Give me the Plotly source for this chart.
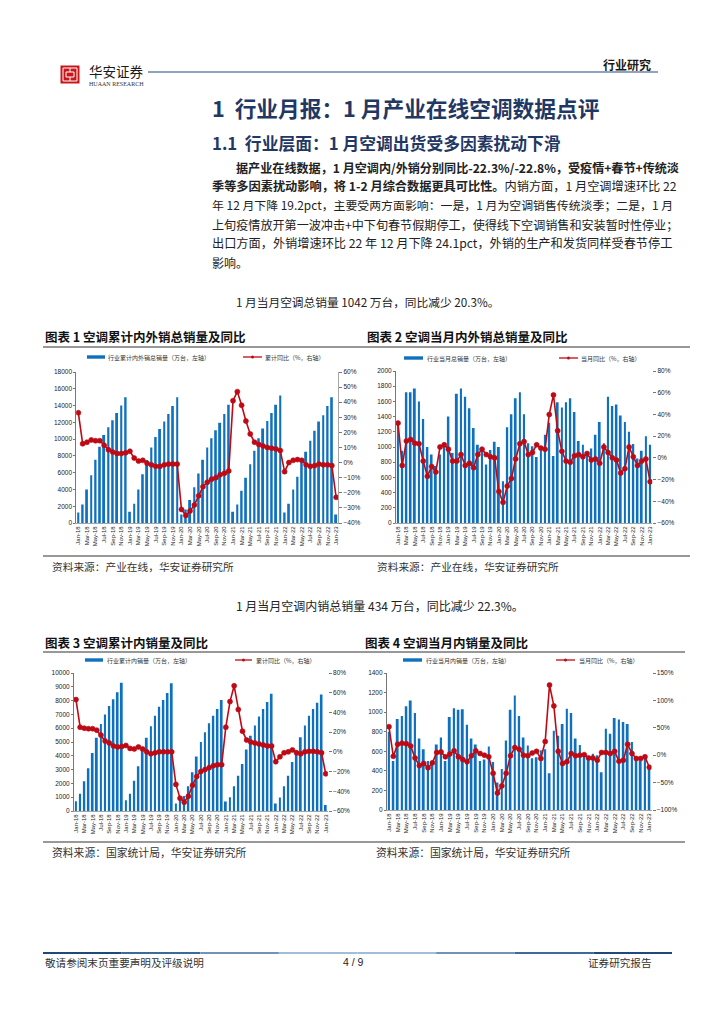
import plotly.graph_objects as go

W, H = 724, 1024
PAGE_INSET = 8
CJK = "Noto Sans CJK SC"
LATIN = "Liberation Sans"
BAR = "#0F70BE"
LINE = "#BE0A14"
NAVY = "#1F3864"

years = ["18", "19", "20", "21", "22"]
mons = ["Jan", "Feb", "Mar", "Apr", "May", "Jun", "Jul", "Aug", "Sep", "Oct", "Nov", "Dec"]
months = [f"{m}-{y}" for y in years for m in mons] + ["Jan-23"]
tick_labels = months[::2]

total_cum = [1250, 2200, 4000, 5700, 7550, 9100, 10500, 11400, 12250, 13100, 14000, 15000,
             1350, 2300, 4000, 5800, 7500, 9000, 10250, 11200, 12100, 13000, 13950, 15000,
             1000, 1600, 2750, 4250, 5900, 7550, 9000, 10100, 11050, 11950, 13000, 14100,
             1350, 2200, 3850, 5400, 7000, 8600, 10100, 11250, 12150, 13100, 14100, 15200,
             1250, 2300, 4000, 5500, 7300, 8500, 9800, 11000, 12100, 12850, 13950, 15000, 1000]
total_cum_yoy = [33, 12.5, 13.5, 15, 14.5, 14.5, 11.5, 8.5, 7, 6, 6, 6.5,
                 7.5, 3, 1, 1.5, -0.5, -1.5, -2.5, -2.5, -1.5, -1, -1, -1,
                 -31, -35, -32, -28, -22, -16, -13, -11, -10, -8, -7, -5.5,
                 41, 47, 38, 27.5, 19, 13.5, 12, 11, 10, 9.5, 9, 8,
                 -6, 0, 1.5, 2, 1.5, -1.5, -2.5, -2, -1, -1.5, -1.5, -2, -23]

total_mon = [1300, 950, 1720, 1720, 1770, 1600, 1370, 1000, 900, 750, 900, 1060,
             1400, 920, 1700, 1770, 1660, 1510, 1250, 1030, 960, 770, 960, 1070,
             1000, 550, 1260, 1430, 1640, 1720, 1430, 1050, 1010, 870, 980, 1160,
             1320, 880, 1590, 1520, 1590, 1640, 1460, 1080, 1030, 910, 980, 1160,
             1330, 1050, 1660, 1540, 1560, 1415, 1330, 1200, 1040, 850, 950, 1140, 1030]
total_mon_yoy = [32, -7, 15.5, 17, 13.5, 13, -3, -17, -8, -13, 10, 12,
                 8, -3, -3, 3, -7, -5, -9, 3, 8, 3, 1, 0,
                 -31, -41, -26, -19, -1, 13, 15, 3, 5, 12, 9, 8,
                 40, 58, 25, 6, -3, -4, 2, 3, 1, 4, -2, -1,
                 -5, 10, 5, 0, -2, -14, -10, 10, 1, -7, -3, -1, -22]

dom_cum = [700, 1250, 2150, 3100, 4200, 5300, 6300, 7000, 7600, 8100, 8600, 9300,
           780, 1250, 2200, 3250, 4400, 5300, 6150, 6900, 7550, 8050, 8550, 9250,
           550, 800, 1080, 1800, 2800, 3950, 5000, 5700, 6350, 6900, 7400, 8050,
           680, 1000, 1800, 2550, 3400, 4450, 5450, 6200, 6850, 7400, 7900, 8500,
           550, 980, 1800, 2550, 3550, 4400, 5350, 6200, 6900, 7400, 7850, 8450, 430]
dom_cum_yoy = [53, 25, 24, 23.5, 23.5, 22, 17, 11, 9, 6, 5, 5.5,
               6.5, 3.5, 3, 5, 3, 0, -2, -1, 0, 0, 0, 0,
               -33, -47, -51, -45, -34, -25, -20, -18, -16, -14, -13, -13,
               25, 51, 67, 43, 21, 12, 10, 9, 8, 7, 6, 6,
               -10, -5, -1, 0, 2, -1, -2, 0, 0.5, 0.5, 0, -1, -22.3]

dom_mon = [800, 500, 930, 960, 1060, 1120, 990, 730, 620, 500, 500, 670,
           740, 500, 950, 1040, 1025, 1030, 870, 730, 670, 500, 515, 650,
           490, 280, 420, 710, 1025, 1170, 960, 740, 660, 530, 540, 610,
           620, 375, 810, 760, 880, 1035, 990, 730, 665, 560, 530, 575,
           560, 385, 830, 780, 940, 925, 900, 880, 695, 540, 500, 530, 430]
dom_mon_yoy = [52, -2, 20, 22, 21, 17, -5, -19, -15, -23, -14, 5,
               6, -3, 2, 8, -3, -8, -12, -1, 8, 3, 0, -3,
               -33, -69, -56, -33, -1, 14, 11, 0, -1, 4, 7, -6,
               25, 128, 90, 7, -15, -12, 3, -1, 0, 1, -5, -5,
               -9, 5, 5, 3, 7, -11, -9, 20, 3, -6, -6, -3, -22]

charts = [
    dict(bars=total_cum, line=total_cum_yoy, lmax=18000, ldt=2000, rmin=-40, rmax=60, rdt=10,
         px=(76.2, 338.3), py=(372, 523), rline=True,
         bar_name="行业累计内外销总销量（万台，左轴）", line_name="累计同比（%，右轴）",
         leg=(87, 105, 107, 243, 262, 264, 357)),
    dict(bars=total_mon, line=total_mon_yoy, lmax=2000, ldt=200, rmin=-60, rmax=80, rdt=20,
         px=(395.9, 652.2), py=(371, 523), rline=False,
         bar_name="行业当月总销量（万台，左轴）", line_name="当月同比（%，右轴）",
         leg=(404, 423, 426, 559, 578, 580, 358)),
    dict(bars=dom_cum, line=dom_cum_yoy, lmax=10000, ldt=1000, rmin=-60, rmax=80, rdt=20,
         px=(73.9, 327.8), py=(673, 811), rline=False,
         bar_name="行业累计内销量（万台，左轴）", line_name="累计同比（%，右轴）",
         leg=(85, 103, 106, 235, 252, 255, 660)),
    dict(bars=dom_mon, line=dom_mon_yoy, lmax=1400, ldt=200, rmin=-100, rmax=150, rdt=50,
         px=(386.8, 651.5), py=(673, 810), rline=False,
         bar_name="行业当月内销量（万台，左轴）", line_name="当月同比（%，右轴）",
         leg=(403, 422, 425, 556, 575, 578, 660)),
]

fig = go.Figure()
annotations, shapes = [], []
FW, FH = W - PAGE_INSET, H - PAGE_INSET * 2


def X(p):
    return (p - PAGE_INSET) / FW


def Y(p):
    return 1 - (p - PAGE_INSET) / FH


def text(s, x, y, size=12, color="#111111", font=CJK, anchor="left"):
    annotations.append(dict(text=s, x=X(x), y=Y(y), xref="paper", yref="paper", showarrow=False,
                            xanchor=anchor, yanchor="middle", align=anchor, borderpad=0,
                            font=dict(family=font, size=size, color=color)))


def line(x0, y0, x1, y1, color="#000000", width=1):
    shapes.append(dict(type="line", xref="paper", yref="paper", x0=X(x0), y0=Y(y0), x1=X(x1), y1=Y(y1),
                       line=dict(color=color, width=width)))


def rect(x0, y0, x1, y1, color, border=None):
    shapes.append(dict(type="rect", xref="paper", yref="paper", x0=X(x0), y0=Y(y0), x1=X(x1), y1=Y(y1),
                       fillcolor=color, line=dict(color=border or color, width=1 if border else 0)))


layout_axes = {}
for i, c in enumerate(charts):
    n = i * 2 + 1
    xname, yname, yname2 = f"x{n}", f"y{n}", f"y{n + 1}"
    fig.add_trace(go.Bar(x=months, y=c["bars"], marker=dict(color=BAR, line=dict(width=0)),
                         name=c["bar_name"], xaxis=xname, yaxis=yname, showlegend=False))
    fig.add_trace(go.Scatter(x=months, y=c["line"], mode="lines+markers", name=c["line_name"],
                             line=dict(color=LINE, width=1.6),
                             marker=dict(color=LINE, size=5, symbol="circle", line=dict(width=0.6, color=LINE)),
                             xaxis=xname, yaxis=yname2, showlegend=False))
    x0, x1 = c["px"]
    yt, yb = c["py"]
    layout_axes[f"xaxis{n}"] = dict(
        domain=[X(x0), X(x1)], anchor=yname, type="category", range=[-0.5, 60.5],
        tickmode="array", tickvals=tick_labels, ticktext=tick_labels, tickangle=-90,
        tickfont=dict(family=LATIN, size=6, color="#222222"), ticks="", showgrid=False,
        showline=True, linecolor="#A6A6A6", linewidth=0.8, zeroline=False, automargin=False)
    layout_axes[f"yaxis{n}"] = dict(
        domain=[Y(yb), Y(yt)], anchor=xname, range=[0, c["lmax"]], tick0=0, dtick=c["ldt"], tickformat="d",
        tickfont=dict(family=LATIN, size=6.5, color="#222222"), ticks="outside", ticklen=2, tickwidth=0.6,
        tickcolor="#777777", showgrid=False, showline=True, linecolor="#777777", linewidth=0.8,
        zeroline=False, automargin=False)
    layout_axes[f"yaxis{n + 1}"] = dict(
        domain=[Y(yb), Y(yt)], anchor=xname, overlaying=yname, side="right",
        range=[c["rmin"], c["rmax"]], tick0=c["rmin"], dtick=c["rdt"], ticksuffix="%",
        tickfont=dict(family=LATIN, size=6.5, color="#222222"), ticks="outside", ticklen=3, tickwidth=0.6,
        tickcolor="#777777", showgrid=False, showline=c["rline"], linecolor="#A6A6A6", linewidth=0.8,
        zeroline=False, automargin=False)
    s0, s1, st, l0, l1, lt, ly = c["leg"]
    rect(s0, ly - 1.7, s1, ly + 1.7, BAR)
    text(c["bar_name"], st, ly, size=6, color="#333333")
    line(l0, ly, l1, ly, LINE, 1.3)
    shapes.append(dict(type="circle", xref="paper", yref="paper", x0=X((l0 + l1) / 2 - 1.5), x1=X((l0 + l1) / 2 + 1.5),
                       y0=Y(ly - 1.5), y1=Y(ly + 1.5), fillcolor=LINE, line=dict(width=0)))
    text(c["line_name"], lt, ly, size=6, color="#333333")

# Page header
rect(60.5, 65.5, 79.5, 83.5, "#C8161D")
rect(63, 68, 77, 81, "#C8161D", border="#FFFFFF")
line(70, 68, 70, 81, "#FFFFFF", 1)
rect(66, 72, 74, 77, "#C8161D", border="#FFFFFF")
text("华安证券", 88, 71, size=13.5, color="#1A1A1A")
text("HUAAN RESEARCH", 88, 84.5, size=6, color="#333333", font="Liberation Serif")
line(148, 72, 658, 72, "#1F497D", 1.2)
text("<b>行业研究</b>", 652, 64, size=12, color="#1A1A1A", anchor="right")

# Headings and body
text("<b>1  行业月报：1 月产业在线空调数据点评</b>", 211, 108, size=21.7, color=NAVY)
text("<b>1.1  行业层面：1 月空调出货受多因素扰动下滑</b>", 211, 143, size=16.8, color=NAVY)
body = [
    (235, 167, 12.1, "<b>据产业在线数据，1 月空调内/外销分别同比-22.3%/-22.8%，受疫情+春节+传统淡</b>"),
    (211, 186, 12.2, "<b>季等多因素扰动影响，将 1-2 月综合数据更具可比性。</b>内销方面，1 月空调增速环比 22"),
    (211, 205, 11.9, "年 12 月下降 19.2pct，主要受两方面影响：一是，1 月为空调销售传统淡季；二是，1 月"),
    (211, 224, 12.1, "上旬疫情放开第一波冲击+中下旬春节假期停工，使得线下空调销售和安装暂时性停业；"),
    (211, 243, 12.2, "出口方面，外销增速环比 22 年 12 月下降 24.1pct，外销的生产和发货同样受春节停工"),
    (211, 262, 12.0, "影响。"),
    (235, 301, 11.7, "1 月当月空调总销量 1042 万台，同比减少 20.3%。"),
    (235, 605, 12.0, "1 月当月空调内销总销量 434 万台，同比减少 22.3%。"),
]
for bx, by, bs, s in body:
    text(s, bx, by, size=bs, color="#222222")

# Figure titles, rules, sources
text("<b>图表 1 空调累计内外销总销量及同比</b>", 44, 337, size=12.5)
text("<b>图表 2 空调当月内外销总销量及同比</b>", 366, 337, size=12.5)
text("<b>图表 3 空调累计内销量及同比</b>", 44, 642, size=12.5)
text("<b>图表 4 空调当月内销量及同比</b>", 364, 642, size=12.5)
line(43, 347, 690, 347, "#333333", 1.2)
line(43, 556, 690, 556, "#333333", 1.2)
line(43, 652, 685, 652, "#333333", 1.2)
line(43, 842, 685, 842, "#333333", 1.2)
text("资料来源：产业在线，华安证券研究所", 51, 566, size=10.7, color="#333333")
text("资料来源：产业在线，华安证券研究所", 376, 566, size=10.7, color="#333333")
text("资料来源：国家统计局，华安证券研究所", 51, 852, size=10.8, color="#333333")
text("资料来源：国家统计局，华安证券研究所", 375, 852, size=10.8, color="#333333")

# Footer
grad = ["#1F497D", "#3D6A9C", "#6F93BC", "#A3BCD8", "#A3BCD8", "#6F93BC", "#3D6A9C", "#1F497D"]
seg = (672 - 43) / len(grad)
for k, col in enumerate(grad):
    line(43 + k * seg, 953, 43 + (k + 1) * seg, 953, col, 2)
text("敬请参阅末页重要声明及评级说明", 44, 962, size=10.6, color="#333333")
text("4 / 9", 353, 962, size=10.5, color="#222222", font=LATIN, anchor="center")
text("证券研究报告", 653, 962, size=10.6, color="#333333", anchor="right")

fig.update_layout(width=FW, height=FH, margin=dict(l=0, r=0, t=0, b=0), autosize=False,
                  paper_bgcolor="white", plot_bgcolor="white", bargap=0.55, barmode="overlay",
                  showlegend=False, annotations=annotations, shapes=shapes,
                  font=dict(family=CJK), **layout_axes)
fig.write_html("out.html", config={"displayModeBar": False, "responsive": False})
